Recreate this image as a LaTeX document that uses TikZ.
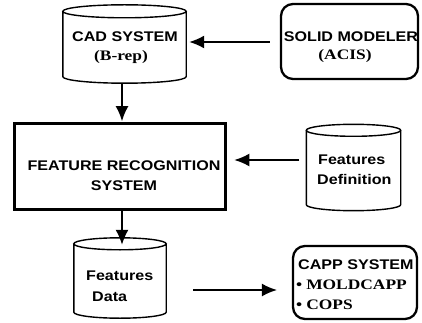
\documentclass[tikz,border=0pt]{standalone}
\usepackage{fontspec}
\setmainfont{Liberation Sans}
\newfontfamily\hsans[FakeStretch=1.15]{Liberation Sans}
\newfontfamily\hserif[FakeStretch=1.2]{Liberation Serif}
\usetikzlibrary{arrows.meta,calc}

\newcommand\drawcyl[2]{%
  \draw[cylline] let \p1=(#1.north west), \p2=(#1.south east), \n1={(\x2-\x1)/2} in
    ($(#1.north)+(0pt,-#2pt)$) ellipse[x radius=\n1, y radius=#2pt]
    (\x1,\y1-#2pt) -- (\x1,\y2+#2pt) arc[start angle=180,end angle=360,x radius=\n1,y radius=#2pt] -- (\x2,\y1-#2pt);}

\tikzset{
  cylline/.style={line width=1.4pt},
  arr/.style={line width=1.5pt, -{Latex[length=15pt,width=13pt]}},
  rbox/.style={draw, line width=2.3pt, rounded corners=12pt, inner sep=0pt},
  frbox/.style={draw, line width=2.8pt, inner sep=0pt},
  cylnode/.style={inner sep=0pt, draw=none, rectangle},
  hd/.style={font=\hsans\bfseries\fontsize{14}{16}\selectfont, inner sep=0pt},
  sb/.style={font=\hserif\bfseries\fontsize{14.5}{16}\selectfont, inner sep=0pt},
}

\begin{document}
\begin{tikzpicture}[x=1pt,y=-1pt]
\path[fill=white,use as bounding box] (0,0) rectangle (422,323);

% shapes
\node[cylnode, minimum width=123pt, minimum height=78pt] (cad) at (124.5,44) {};
\node[rbox, minimum width=137pt, minimum height=75pt] (solid) at (349.5,41.5) {};
\node[frbox, minimum width=211pt, minimum height=86pt] (fr) at (120,166.5) {};
\node[cylnode, minimum width=94pt, minimum height=86pt] (fdef) at (353.5,167.5) {};
\node[cylnode, minimum width=92pt, minimum height=80pt] (fdata) at (120,278) {};
\node[rbox, minimum width=124pt, minimum height=73pt] (capp) at (355,282.5) {};

\drawcyl{cad}{6.5}
\drawcyl{fdef}{6}
\drawcyl{fdata}{6}

% texts
\node[hd, anchor=base] (cadt1) at (125,42) {CAD SYSTEM};
\node[sb, anchor=base] (cadt2) at (121,60.5) {(B-rep)};
\node[hd, anchor=base] (solt1) at (351,41.7) {SOLID MODELER};
\node[sb, anchor=base] (solt2) at (345,60) {(ACIS)};
\node[hd, anchor=base] (frt1) at (124,170) {FEATURE RECOGNITION};
\node[hd, anchor=base] (frt2) at (124,190) {SYSTEM};
\node[hd, anchor=base west] (fdt1) at (318,164) {Features};
\node[hd, anchor=base west] (fdt2) at (317,184) {Definition};
\node[hd, anchor=base west] (fat1) at (86,280) {Features};
\node[hd, anchor=base west] (fat2) at (92,301) {Data};
\node[hd, anchor=base west] (cpt1) at (298,269) {CAPP SYSTEM};
\node[sb, anchor=base west] (cpt2) at (296,289) {\textbullet\hspace{4pt}MOLDCAPP};
\node[sb, anchor=base west] (cpt3) at (296,309) {\textbullet\hspace{4pt}COPS};

% connectors
\coordinate (a1) at ([yshift=-0.5pt]solid.west);
\draw[arr, shorten <=10pt, shorten >=3pt] (a1) -- (a1 -| cad.east);
\coordinate (a2) at ([yshift=7.5pt]fdef.west);
\draw[arr, shorten <=7pt, shorten >=7.5pt] (a2) -- (a2 -| fr.east);
\coordinate (a3) at ([yshift=-12pt]fdata.east);
\draw[arr, shorten <=27pt, shorten >=15pt] (a3) -- (a3 -| capp.west);
\coordinate (a4) at ([xshift=-2.5pt]cad.south);
\draw[arr, shorten >=1pt] (a4) -- (a4 |- fr.north);
\draw[arr, shorten >=-7pt] (a4 |- fr.south) -- (a4 |- fdata.north);
\end{tikzpicture}
\end{document}
